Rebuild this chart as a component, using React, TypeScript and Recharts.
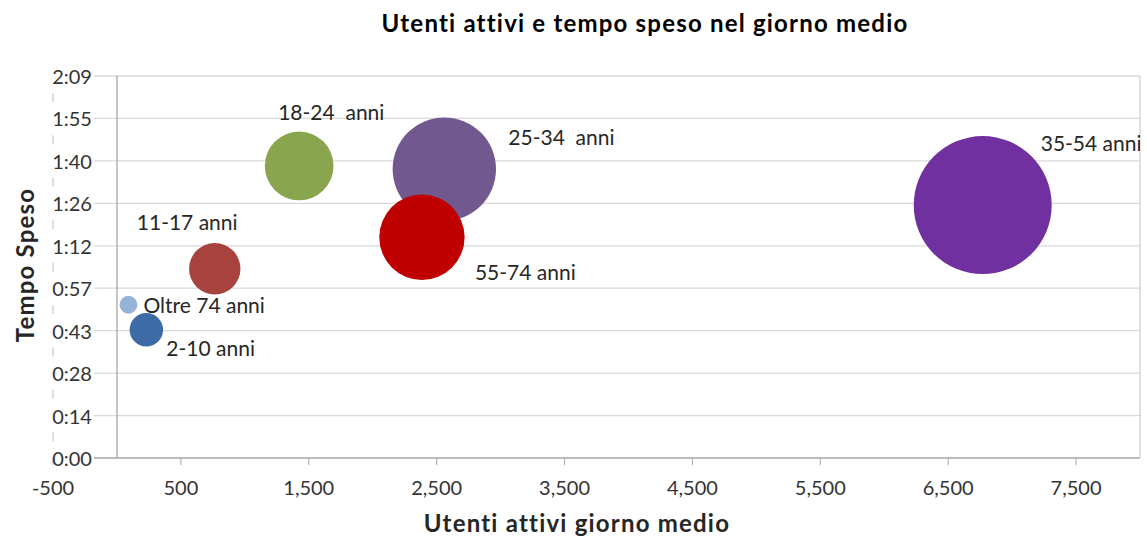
import React from "react";
import { ScatterChart, Scatter, XAxis, YAxis, ZAxis, CartesianGrid, ReferenceLine } from "recharts";

// age groups, drawn in this order (55-74 last so it sits over 25-34)
const ageGroups = ["Oltre 74 anni", "2-10 anni", "11-17 anni", "18-24  anni", "25-34  anni", "35-54 anni", "55-74 anni"];
const activeUsers = [90, 230, 765, 1425, 2560, 6770, 2385];
const minutesSpent = [52.0, 43.5, 64.2, 99.1, 98.0, 85.8, 74.9];
const bubbleSize = [80, 280, 660, 1180, 2670, 4760, 1820];
const bubbleColors = ["#95B3D7", "#3D6BA6", "#A8423F", "#89A54E", "#71588F", "#7030A0", "#C00000"];
// label placement relative to bubble centre (px)
const labelOffsets = [[15, 0], [20, 18], [-78, -47], [-21, -54], [64, -33], [58, -63], [53, 34]];

const xTicks = [-500, 500, 1500, 2500, 3500, 4500, 5500, 6500, 7500];
const yTicks = [0, 14.4, 28.8, 43.2, 57.6, 72, 86.4, 100.8, 115.2, 129.6];
const yTickLabels = ["0:00", "0:14", "0:28", "0:43", "0:57", "1:12", "1:26", "1:40", "1:55", "2:09"];

const data = ageGroups.map((name, i) => ({
  name,
  idx: i,
  x: activeUsers[i],
  y: minutesSpent[i],
  z: bubbleSize[i],
}));

const FONT = "Lato, sans-serif";
const W = 1147;
const H = 539;
const PLOT_LEFT = 53;
const PLOT_RIGHT = 1140;
const PLOT_BOTTOM = 458;
const X_MIN = -500;
const X_MAX = 8000;
const ZERO_X = PLOT_LEFT + ((PLOT_RIGHT - PLOT_LEFT) * (0 - X_MIN)) / (X_MAX - X_MIN);

const titleStyle: React.CSSProperties = {
  position: "absolute",
  fontWeight: 700,
  fontSize: 24,
  letterSpacing: 1.2,
  whiteSpace: "nowrap",
};

function Bubble(props: any) {
  const { cx, cy, size, payload } = props;
  const r = Math.sqrt(size / Math.PI);
  const [dx, dy] = labelOffsets[payload.idx];
  return (
    <g>
      <circle cx={cx} cy={cy} r={r} fill={bubbleColors[payload.idx]} />
      <text
        x={cx + dx}
        y={cy + dy}
        dominantBaseline="central"
        fontSize={21}
        fontFamily={FONT}
        fill="#262626"
        style={{ whiteSpace: "pre" }}
      >
        {payload.name}
      </text>
    </g>
  );
}

function YTick(props: any) {
  const i = yTicks.indexOf(props.payload.value);
  return (
    <text
      x={ZERO_X - 25}
      y={props.y}
      textAnchor="end"
      dominantBaseline="central"
      fontSize={20}
      fontFamily={FONT}
      fill="#333"
    >
      {yTickLabels[i]}
    </text>
  );
}

function GridLine(p: any) {
  const isBase = Math.abs(p.y1 - PLOT_BOTTOM) < 1;
  return (
    <line
      key={`h-${p.index}`}
      x1={ZERO_X - 23}
      x2={p.x2}
      y1={p.y1}
      y2={p.y2}
      stroke={isBase ? "#A6A6A6" : "#D9D9D9"}
      strokeWidth={1.3}
    />
  );
}

export default function App() {
  return (
    <div style={{ position: "absolute", left: 0, top: 0, width: W, height: H, fontFamily: FONT }}>
      <div style={{ ...titleStyle, left: 0, width: 1290, top: 8, textAlign: "center", color: "#000" }}>
        Utenti attivi e tempo speso nel giorno medio
      </div>
      <div style={{ ...titleStyle, left: 0, width: 1154, top: 508, textAlign: "center", color: "#262626" }}>
        Utenti attivi giorno medio
      </div>
      <div
        style={{
          ...titleStyle,
          left: 24,
          top: 265,
          transform: "translate(-50%, -50%) rotate(-90deg)",
          color: "#262626",
        }}
      >
        Tempo Speso
      </div>
      <ScatterChart width={W} height={H} margin={{ top: 76, right: 7, bottom: 0, left: 0 }}>
        <CartesianGrid vertical={false} horizontal={GridLine} />
        <XAxis
          type="number"
          dataKey="x"
          domain={[X_MIN, X_MAX]}
          ticks={xTicks}
          interval={0}
          allowDataOverflow
          height={81}
          axisLine={false}
          tickLine={{ stroke: "#A6A6A6" }}
          tickSize={7}
          tickMargin={16}
          tick={{ fill: "#333", fontSize: 20, fontFamily: FONT }}
          tickFormatter={(v: number) => v.toLocaleString("en-US")}
        />
        <YAxis
          type="number"
          dataKey="y"
          domain={[0, 129.6]}
          ticks={yTicks}
          interval={0}
          allowDataOverflow
          width={53}
          tickLine={false}
          axisLine={{ stroke: "#BFBFBF", strokeDasharray: "0 17 9 16.4" }}
          tick={YTick}
        />
        <ZAxis type="number" dataKey="z" domain={[0, 4760]} range={[0, Math.PI * 69 * 69]} />
        <ReferenceLine x={0} stroke="#A6A6A6" strokeWidth={1.3} />
        <ReferenceLine x={X_MAX} stroke="#D0D0D0" strokeWidth={1.3} />
        <Scatter data={data} shape={Bubble} isAnimationActive={false} />
      </ScatterChart>
    </div>
  );
}
